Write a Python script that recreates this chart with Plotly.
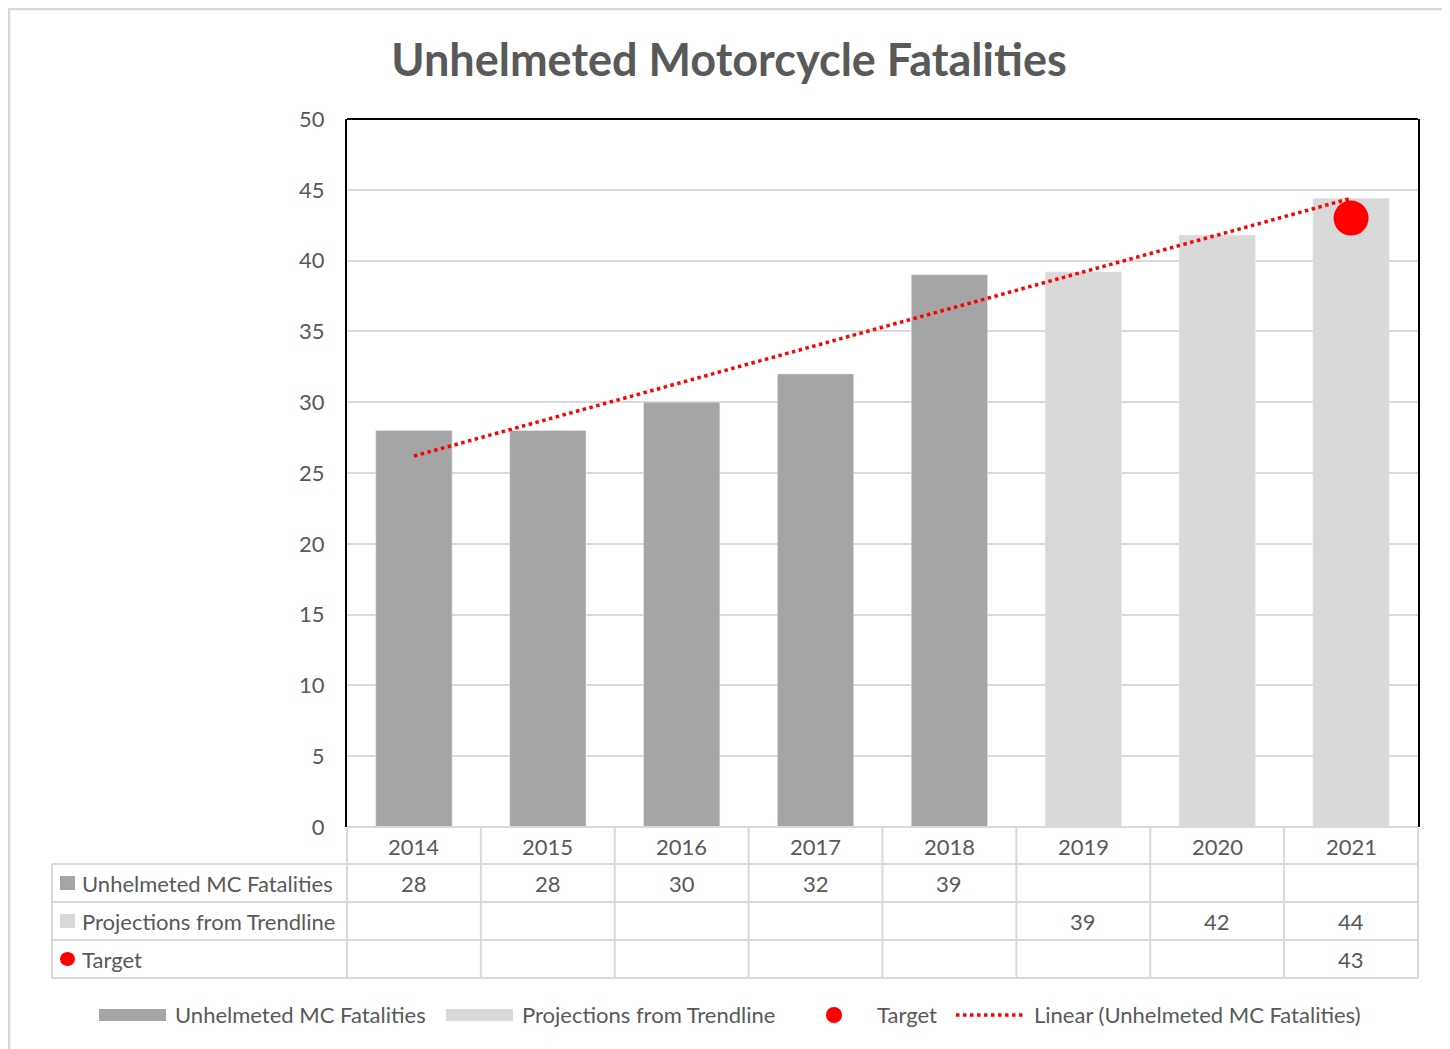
import plotly.graph_objects as go

# data
years = ['2014', '2015', '2016', '2017', '2018', '2019', '2020', '2021']
fatalities = [28, 28, 30, 32, 39, None, None, None]
projections = [None, None, None, None, None, 39.2, 41.8, 44.4]
target_years = ['2021']
target = [43]
trend_years = ['2014', '2021']
trend = [26.2, 44.4]

DARK = '#a5a5a5'
LIGHT = '#d9d9d9'
TXT = '#595959'
FONT = 'Lato'

# page body has an 8px margin, so the figure starts at (8, 8) on screen
OFF = 8
W, H = 1450 - OFF, 1049 - OFF
# plot area in screen pixels (used for table/legend placement)
L, R, T, B = 347, 1418, 119, 827


def px(x):
    return (x - L) / (R - L)


def py(y):
    return (B - y) / (B - T)


fig = go.Figure()
fig.add_trace(go.Bar(x=years, y=fatalities, name='Unhelmeted MC Fatalities',
                     marker=dict(color=DARK), width=0.57))
fig.add_trace(go.Bar(x=years, y=projections, name='Projections from Trendline',
                     marker=dict(color=LIGHT), width=0.57))
fig.add_trace(go.Scatter(x=trend_years, y=trend, mode='lines',
                         name='Linear (Unhelmeted MC Fatalities)',
                         line=dict(color='red', width=3.5, dash='dot')))
fig.add_trace(go.Scatter(x=target_years, y=target, mode='markers', name='Target',
                         marker=dict(color='red', size=35)))

shapes = []
annotations = []

# plot area top border (bottom edge is the table's grey line)
shapes.append(dict(type='line', xref='paper', yref='paper', x0=0, x1=1, y0=1, y1=1,
                   line=dict(color='black', width=2)))

# table grid
grid = dict(color=LIGHT, width=2)
col_w = (R - L) / len(years)
for i in range(len(years) + 1):
    x = L + i * col_w
    shapes.append(dict(type='line', xref='paper', yref='paper',
                       x0=px(x), x1=px(x), y0=py(828), y1=py(978), line=grid))
shapes.append(dict(type='line', xref='paper', yref='paper',
                   x0=px(52), x1=px(52), y0=py(864), y1=py(978), line=grid))
shapes.append(dict(type='line', xref='paper', yref='paper',
                   x0=0, x1=1, y0=0, y1=0, line=grid))
for y in [864, 902, 940, 978]:
    shapes.append(dict(type='line', xref='paper', yref='paper',
                       x0=px(52), x1=px(R), y0=py(y), y1=py(y), line=grid))

# year header row
for i, yr in enumerate(years):
    annotations.append(dict(text=yr, xref='x', yref='paper', x=i, y=py(846),
                            xanchor='center', yanchor='middle', showarrow=False,
                            font=dict(size=22, color=TXT)))

# table rows
rows = [
    ('Unhelmeted MC Fatalities', fatalities, DARK, 'rect', 883),
    ('Projections from Trendline', projections, LIGHT, 'rect', 921),
    ('Target', [None] * 7 + target, 'red', 'circle', 959),
]
for label, vals, color, kind, yc in rows:
    shapes.append(dict(type=kind, xref='paper', yref='paper',
                       x0=px(60), x1=px(75), y0=py(yc - 7), y1=py(yc + 7),
                       fillcolor=color, line=dict(width=0)))
    annotations.append(dict(text=label, xref='paper', yref='paper',
                            x=px(80), y=py(yc), xanchor='left', yanchor='middle',
                            showarrow=False, font=dict(size=22, color=TXT)))
    for i, v in enumerate(vals):
        if v is not None:
            # category axes take the category index for annotations
            annotations.append(dict(text=str(round(v)), xref='x', yref='paper',
                                    x=i, y=py(yc), xanchor='center', yanchor='middle',
                                    showarrow=False, font=dict(size=22, color=TXT)))

# legend
ly = 1015
legend_items = [
    ('rect', DARK, 99, 166, 'Unhelmeted MC Fatalities', 173),
    ('rect', LIGHT, 446, 513, 'Projections from Trendline', 520),
    ('circle', 'red', 826, 842, 'Target', 875),
    ('line', 'red', 956, 1026, 'Linear (Unhelmeted MC Fatalities)', 1032),
]
for kind, color, x0, x1, text, tx in legend_items:
    if kind == 'rect':
        shapes.append(dict(type='rect', xref='paper', yref='paper',
                           x0=px(x0), x1=px(x1), y0=py(ly - 6), y1=py(ly + 6),
                           fillcolor=color, line=dict(width=0)))
    elif kind == 'circle':
        shapes.append(dict(type='circle', xref='paper', yref='paper',
                           x0=px(x0), x1=px(x1), y0=py(ly - 8), y1=py(ly + 8),
                           fillcolor=color, line=dict(width=0)))
    else:
        shapes.append(dict(type='line', xref='paper', yref='paper',
                           x0=px(x0), x1=px(x1), y0=py(ly), y1=py(ly),
                           line=dict(color=color, width=3.5, dash='dot')))
    annotations.append(dict(text=text, xref='paper', yref='paper',
                            x=px(tx), y=py(ly), xanchor='left', yanchor='middle',
                            showarrow=False, font=dict(size=22, color=TXT)))

# outer chart border
shapes.append(dict(type='rect', xref='paper', yref='paper',
                   x0=px(9), x1=px(1445), y0=py(9), y1=py(1060),
                   line=dict(color=LIGHT, width=2.5), layer='below'))

fig.update_layout(
    width=W, height=H,
    margin=dict(l=L - OFF, r=1450 - R, t=T - OFF, b=1049 - B, pad=0),
    paper_bgcolor='white', plot_bgcolor='white',
    barmode='overlay',
    showlegend=False,
    font=dict(family=FONT, color=TXT, size=22),
    title=dict(text='<b>Unhelmeted Motorcycle Fatalities</b>', x=0.5, xanchor='center',
               y=1 - (60 - OFF) / H, yanchor='middle', font=dict(size=45, color=TXT)),
    shapes=shapes,
    annotations=annotations,
)
fig.update_xaxes(type='category', categoryorder='array', categoryarray=years,
                 range=[-0.5, len(years) - 0.5],
                 showline=False, showgrid=False, ticks='', showticklabels=False)
fig.update_yaxes(range=[0, 50], dtick=5, showgrid=True, gridcolor=LIGHT, gridwidth=2,
                 showline=True, linecolor='black', linewidth=2, mirror=True,
                 zeroline=False, ticks='', ticklabelstandoff=16,
                 tickfont=dict(size=22, color=TXT))

fig.write_html("out.html")
